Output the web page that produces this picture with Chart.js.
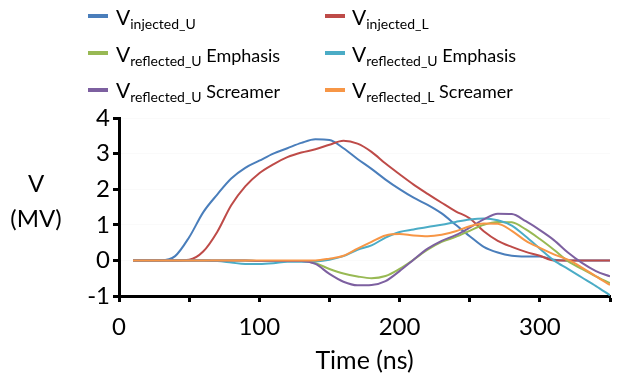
<!DOCTYPE html>
<html>
<head>
<meta charset="utf-8">
<script src="https://cdn.jsdelivr.net/npm/chart.js@4.4.1/dist/chart.umd.min.js"></script>
<style>
  body { margin: 0; background: #fff; font-family: Lato, sans-serif; }
  #wrap { position: relative; width: 621px; height: 377px; }
  .sw { position: absolute; width: 20px; height: 4px; }
  .lbl { position: absolute; font-size: 21px; line-height: 21px; color: #000; white-space: nowrap; }
  .lbl sub { font-size: 14px; vertical-align: -0.3em; line-height: 0; }
  .lbl .suf { font-size: 18px; }
  #ytitle { position: absolute; left: 6px; top: 165px; width: 60px; text-align: center;
            font-size: 24px; line-height: 35px; color: #000; }
</style>
</head>
<body>
<div id="wrap">
  <canvas id="voltChart"></canvas>
  <div id="ytitle">V<br>(MV)</div>
</div>
<script>
// time axis (ns)
const times = [10, 20, 30, 40, 50, 60, 70, 80, 90, 100, 110, 120, 130, 140, 150, 160, 170, 180,
  190, 200, 210, 220, 230, 240, 250, 260, 270, 280, 290, 300, 310, 320, 330, 340, 350];

// voltages (MV)
const injectedU = [0, 0, 0, 0.12, 0.65, 1.35, 1.85, 2.3, 2.6, 2.8, 3.0, 3.15, 3.3, 3.4, 3.38, 3.15, 2.85, 2.57,
  2.27, 2.0, 1.76, 1.56, 1.32, 1.0, 0.68, 0.38, 0.22, 0.13, 0.11, 0.11, 0.02, 0, 0, 0, 0];
const injectedL = [0, 0, 0, 0, 0.02, 0.25, 0.8, 1.55, 2.08, 2.45, 2.7, 2.9, 3.03, 3.12, 3.25, 3.36, 3.28, 3.05,
  2.72, 2.42, 2.13, 1.87, 1.62, 1.38, 1.18, 0.82, 0.55, 0.38, 0.24, 0.13, 0, 0, 0, 0, 0];
const reflUEmphasis = [0, 0, 0, 0, 0, 0, 0, 0, 0, -0.02, -0.02, -0.02, -0.02, -0.08, -0.24, -0.37, -0.45, -0.5,
  -0.44, -0.24, 0.02, 0.3, 0.52, 0.66, 0.83, 1.0, 1.08, 1.07, 0.87, 0.6, 0.3, -0.02, -0.24, -0.45, -0.64];
const reflUEmphasis2 = [0, 0, 0, 0, 0, 0, -0.02, -0.06, -0.1, -0.1, -0.08, -0.04, -0.04, -0.03, 0.02, 0.12, 0.3, 0.42,
  0.64, 0.8, 0.87, 0.94, 1.0, 1.08, 1.15, 1.18, 1.13, 0.98, 0.67, 0.33, 0.0, -0.24, -0.48, -0.72, -0.98];
const reflUScreamer = [0, 0, 0, 0, 0, 0, 0, 0, 0, -0.02, -0.02, -0.02, -0.02, -0.1, -0.38, -0.6, -0.7, -0.69,
  -0.58, -0.3, 0.02, 0.33, 0.55, 0.71, 0.92, 1.15, 1.31, 1.3, 1.1, 0.85, 0.57, 0.22, -0.07, -0.3, -0.45];
const reflLScreamer = [0, 0, 0, 0, 0, 0, 0, 0, 0, 0, 0, 0, 0, 0, 0.05, 0.13, 0.33, 0.52,
  0.7, 0.74, 0.7, 0.68, 0.72, 0.82, 0.96, 1.04, 1.03, 0.83, 0.55, 0.35, 0.17, 0.02, -0.2, -0.45, -0.69];

// legend order: row by row, two columns
const seriesSubs = ['injected_U', 'injected_L', 'reflected_U', 'reflected_U', 'reflected_U', 'reflected_L'];
const seriesSuffix = ['', '', 'Emphasis', 'Emphasis', 'Screamer', 'Screamer'];
const seriesData = [injectedU, injectedL, reflUEmphasis, reflUEmphasis2, reflUScreamer, reflLScreamer];
const seriesColors = ['#4a7ebb', '#be4b48', '#98b954', '#4bacc6', '#7d60a0', '#f79646'];

// html legend (needs subscripts)
const wrap = document.getElementById('wrap');
const colSw = [88, 325], colTxt = [116, 352];
const rowMid = [16, 53, 90], rowTop = [6, 43, 79];
seriesSubs.forEach((sub, i) => {
  const col = i % 2, row = Math.floor(i / 2);
  const sw = document.createElement('div');
  sw.className = 'sw';
  sw.style.left = colSw[col] + 'px';
  sw.style.top = (rowMid[row] - 2) + 'px';
  sw.style.background = seriesColors[i];
  wrap.appendChild(sw);
  const lb = document.createElement('div');
  lb.className = 'lbl';
  lb.style.left = colTxt[col] + 'px';
  lb.style.top = rowTop[row] + 'px';
  lb.innerHTML = 'V<sub>' + sub + '</sub>' + (seriesSuffix[i] ? '<span class="suf"> ' + seriesSuffix[i] + '</span>' : '');
  wrap.appendChild(lb);
});

Chart.defaults.font.family = 'Lato';
Chart.defaults.color = '#000';

const ctx = document.getElementById('voltChart').getContext('2d');
window.voltChartObj = new Chart(ctx, {
  type: 'line',
  data: {
    datasets: seriesData.map((vals, i) => ({
      label: 'V ' + seriesSubs[i] + ' ' + seriesSuffix[i],
      data: times.map((t, k) => ({ x: t, y: vals[k] })),
      borderColor: seriesColors[i],
      backgroundColor: seriesColors[i],
      borderWidth: 2,
      pointRadius: 0,
      cubicInterpolationMode: 'monotone',
      fill: false,
      order: seriesData.length - i // later series drawn on top
    }))
  },
  options: {
    responsive: true,
    maintainAspectRatio: false,
    animation: false,
    layout: { padding: { top: 118, right: 2, left: 0, bottom: 0 } },
    plugins: {
      legend: { display: false },
      tooltip: { enabled: false }
    },
    scales: {
      x: {
        type: 'linear',
        min: 0,
        max: 350,
        afterFit: s => { s.height = 81; },
        border: { color: '#000', width: 3 },
        grid: { drawOnChartArea: false, color: '#000', tickLength: 6, tickWidth: 3 },
        ticks: {
          stepSize: 50,
          autoSkip: false,
          maxRotation: 0,
          padding: 11,
          font: { size: 24 },
          callback: v => (v % 100 === 0 ? v : '')
        },
        title: { display: true, text: 'Time (ns)', font: { size: 25 }, padding: { top: 0, bottom: 1 } }
      },
      y: {
        min: -1,
        max: 4,
        afterFit: s => { s.width = 119; },
        border: { color: '#000', width: 3 },
        grid: { color: 'rgba(0,0,0,0.018)', tickColor: '#000', tickLength: 6, tickWidth: 3 },
        ticks: { stepSize: 1, padding: 3, font: { size: 24 } }
      }
    }
  }
});
</script>
</body>
</html>
